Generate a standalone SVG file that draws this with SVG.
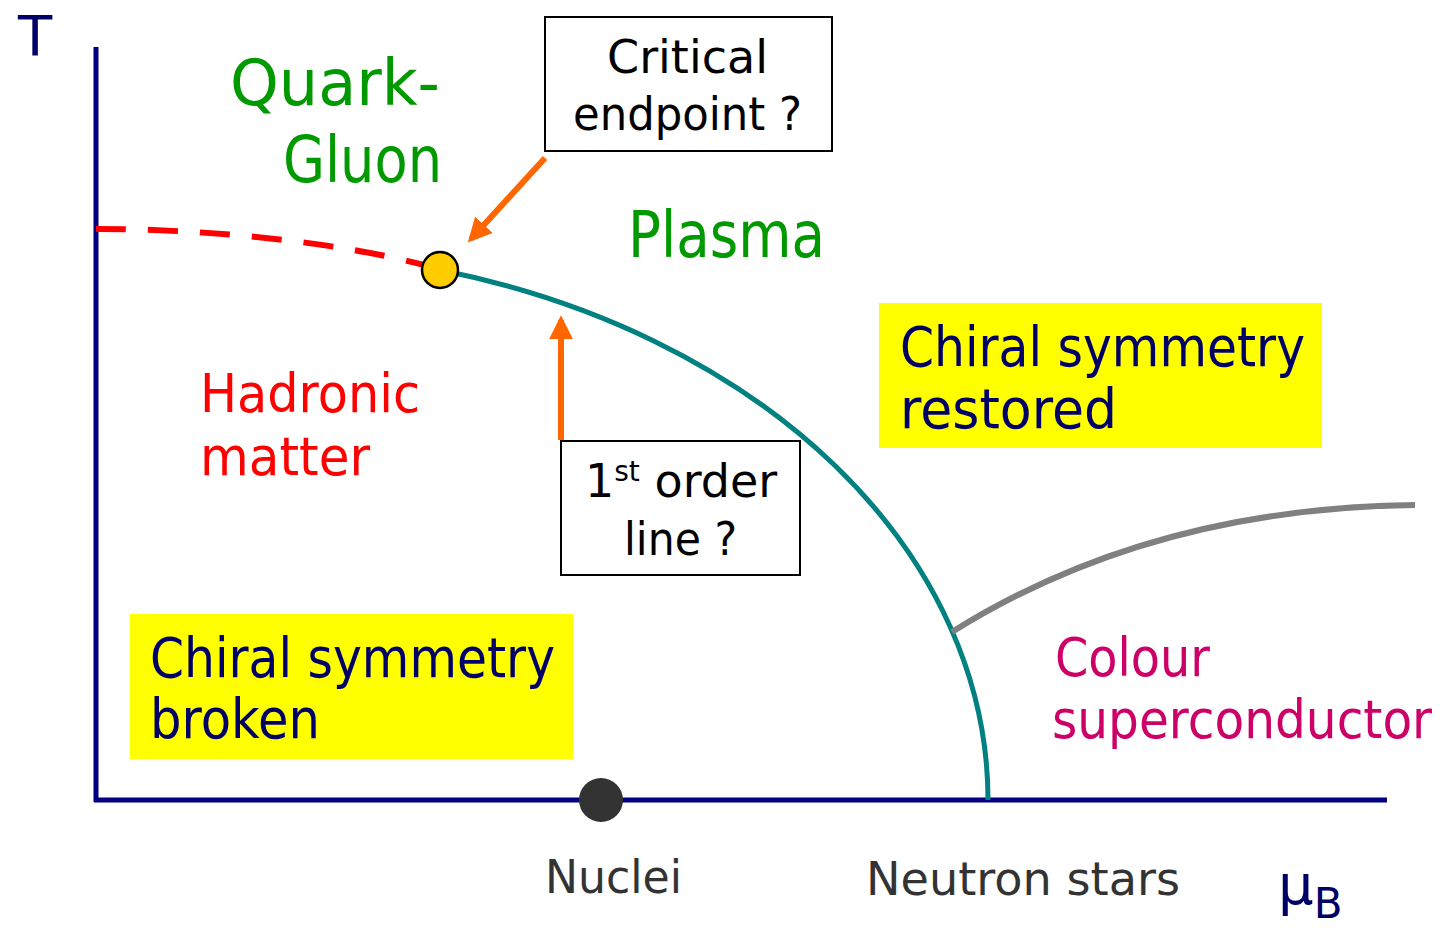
<svg xmlns="http://www.w3.org/2000/svg" width="1450" height="931" viewBox="0 0 1450 931">
<style>
text{font-family:"DejaVu Sans","Noto Sans",sans-serif}
.green{fill:#009900;font-size:64px}
.navy{fill:#000066;font-size:56px}
.red{fill:#FF0000;font-size:54px}
.pink{fill:#CC0066;font-size:54px}
.blk{fill:#000;font-size:46px}
.grey{fill:#333;font-size:46px}
.box{fill:#fff;stroke:#000;stroke-width:2}
.ybox{fill:#FFFF00}
.orange{stroke:#FF6600;stroke-width:6;fill:none}
</style>
<defs>
<marker id="ah" viewBox="0 0 10 10" refX="8" refY="5" markerWidth="4" markerHeight="4" orient="auto" markerUnits="strokeWidth">
<path d="M0,0 L10,5 L0,10 z" fill="#FF6600"/>
</marker>
</defs>
<g id="axes">
<line x1="96" y1="47" x2="96" y2="802" stroke="#000080" stroke-width="5"/>
<line x1="94" y1="800" x2="1387" y2="800" stroke="#000080" stroke-width="5"/>
<text x="18" y="55" style="fill:#000066;font-size:56px">T</text>
<text x="1278" y="904" style="fill:#000066;font-size:56px">μ<tspan dy="14" style="font-size:42px">B</tspan></text>
</g>
<g id="connectors">
<path d="M96,229 C200,229 330,240 428,266" fill="none" stroke="#FF0000" stroke-width="6" stroke-dasharray="30,22"/>
<path d="M440,270 A738,548.5 0 0 1 988,800" fill="none" stroke="#008080" stroke-width="5"/>
<path d="M952,632 Q1150,508 1415,505" fill="none" stroke="#808080" stroke-width="6"/>
<line x1="545" y1="158" x2="471" y2="239" class="orange" marker-end="url(#ah)"/>
<line x1="561" y1="440" x2="561" y2="320" class="orange" marker-end="url(#ah)"/>
</g>
<g id="critical-point">
<circle cx="440" cy="270" r="18" fill="#FFCC00" stroke="#000" stroke-width="2.5"/>
</g>
<g id="nuclei-point">
<circle cx="601" cy="800" r="22" fill="#333"/>
</g>
<g id="qgp">
<text class="green" x="230" y="105" textLength="210" lengthAdjust="spacingAndGlyphs">Quark-</text>
<text class="green" x="283" y="182" textLength="159" lengthAdjust="spacingAndGlyphs">Gluon</text>
<text class="green" x="628" y="257" textLength="197" lengthAdjust="spacingAndGlyphs">Plasma</text>
</g>
<g id="critical-box">
<rect class="box" x="545" y="17" width="287" height="134"/>
<text class="blk" x="607" y="73" textLength="161" lengthAdjust="spacingAndGlyphs">Critical</text>
<text class="blk" x="573" y="130" textLength="229" lengthAdjust="spacingAndGlyphs">endpoint ?</text>
</g>
<g id="first-order-box">
<rect class="box" x="561" y="441" width="239" height="134"/>
<text class="blk" x="585" y="497">1<tspan dy="-16" style="font-size:28px">st</tspan><tspan dy="16"> order</tspan></text>
<text class="blk" x="624" y="555" textLength="113" lengthAdjust="spacingAndGlyphs">line ?</text>
</g>
<g id="restored">
<rect class="ybox" x="879" y="303" width="443" height="145"/>
<text class="navy" x="900" y="366" textLength="405" lengthAdjust="spacingAndGlyphs">Chiral symmetry</text>
<text class="navy" x="900" y="428" textLength="217" lengthAdjust="spacingAndGlyphs">restored</text>
</g>
<g id="broken">
<rect class="ybox" x="130" y="614" width="443" height="145"/>
<text class="navy" x="150" y="677" textLength="405" lengthAdjust="spacingAndGlyphs">Chiral symmetry</text>
<text class="navy" x="150" y="738" textLength="170" lengthAdjust="spacingAndGlyphs">broken</text>
</g>
<g id="hadronic">
<text class="red" x="200" y="412" textLength="220" lengthAdjust="spacingAndGlyphs">Hadronic</text>
<text class="red" x="200" y="475" textLength="170" lengthAdjust="spacingAndGlyphs">matter</text>
</g>
<g id="colour-sc">
<text class="pink" x="1055" y="676" textLength="155" lengthAdjust="spacingAndGlyphs">Colour</text>
<text class="pink" transform="translate(1052,738) scale(0.9,1)" x="0" y="0">superconductor</text>
</g>
<g id="labels">
<text class="grey" x="545" y="893" textLength="137" lengthAdjust="spacingAndGlyphs">Nuclei</text>
<text class="grey" x="866" y="895" textLength="314" lengthAdjust="spacingAndGlyphs">Neutron stars</text>
</g>
</svg>
